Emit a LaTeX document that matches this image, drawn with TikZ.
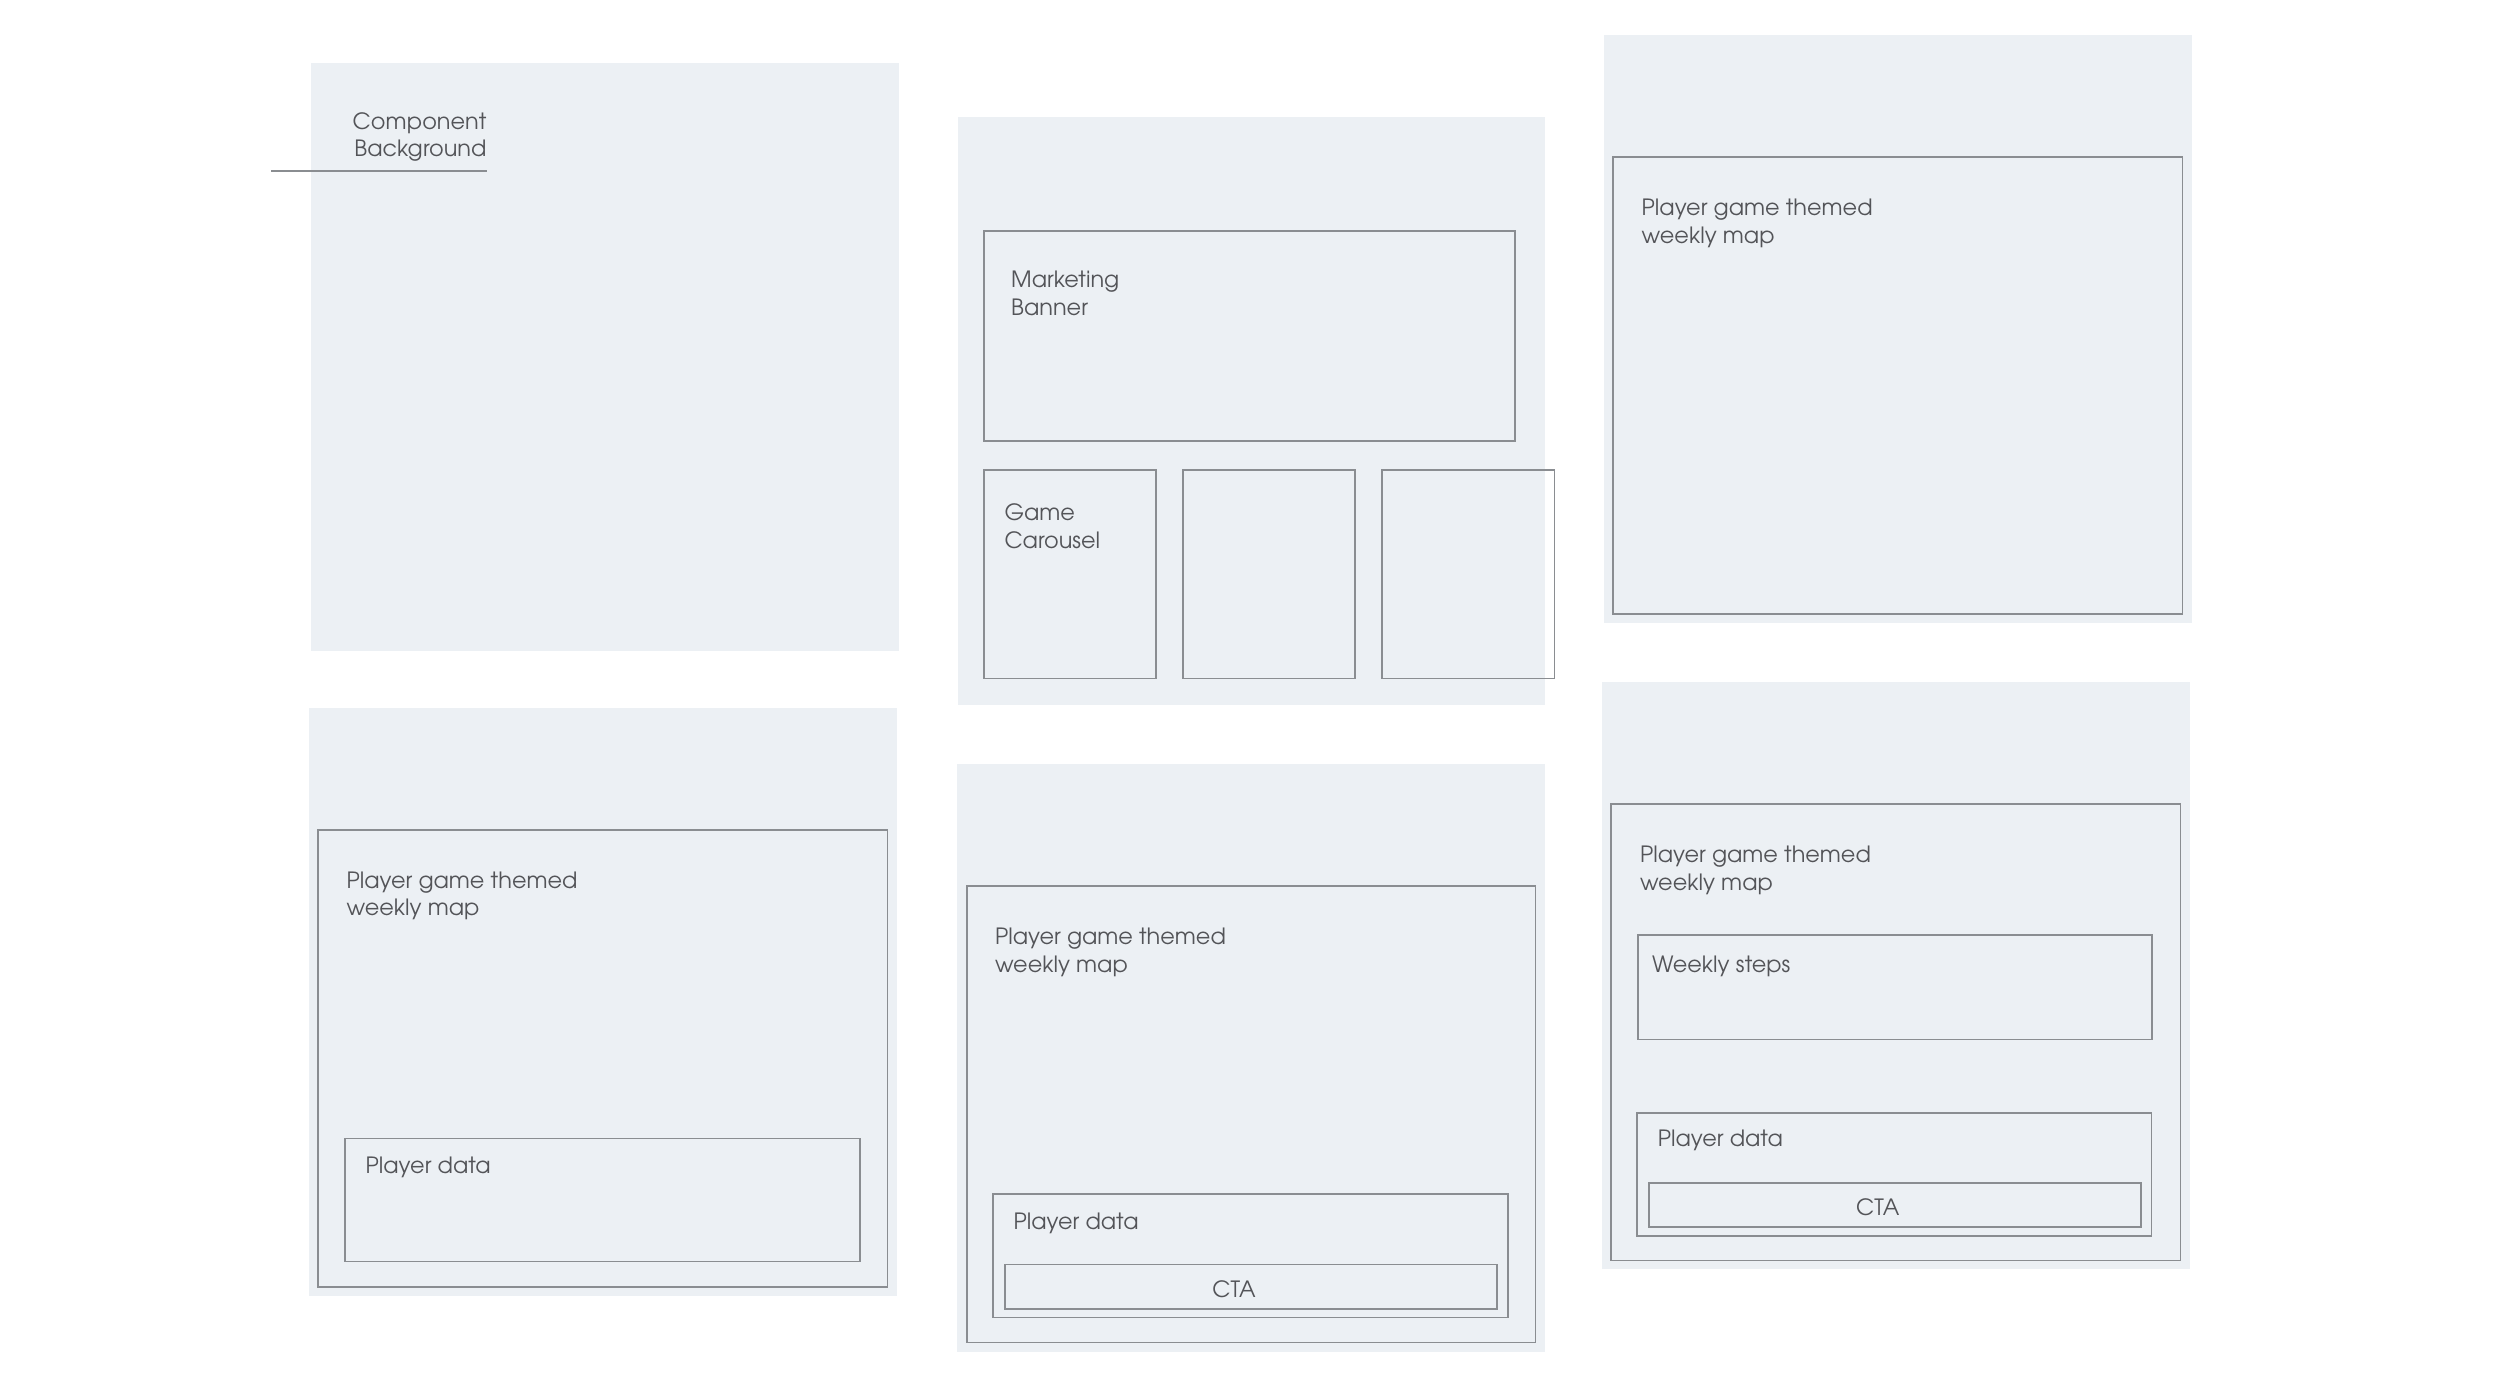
\documentclass[tikz,border=0pt]{standalone}
\usepackage{fontspec}
\setmainfont{TeX Gyre Adventor}
\definecolor{panelfill}{HTML}{ECF0F4}
\definecolor{edge}{HTML}{8A8D91}
\definecolor{txt}{HTML}{535458}
\newcommand\wfbox[6]{\node[#2,anchor=north west,minimum width={#5-#3},minimum height={#6-#4},inner sep=0pt,outer sep=0pt] (#1) at (#3,#4) {};}
\begin{document}
\begin{tikzpicture}[x=1pt,y=-1pt,
  panel/.style={fill=panelfill,draw=none},
  box/.style={draw=edge,line width=1.8pt},
  lbl/.style={text=txt,font=\fontsize{22.4}{27.7}\selectfont,inner sep=0pt,anchor=base west,align=left},
]
\useasboundingbox (0,0) rectangle (2500,1387);
% panels
\wfbox{p1}{panel}{311.2}{62.8}{899.1}{650.7}
\wfbox{p2}{panel}{957.5}{117}{1545}{705}
\wfbox{p3}{panel}{1604.1}{35}{2192}{623}
\wfbox{p4}{panel}{309.1}{707.9}{897}{1295.5}
\wfbox{p5}{panel}{957}{764}{1544.5}{1351.5}
\wfbox{p6}{panel}{1602}{682}{2189.5}{1269.2}
% panel 1 label
\node[lbl,anchor=base east,align=right,font=\fontsize{22.4}{27}\selectfont] (cbl) at (486.6,156.1) {Component\\Background};
\coordinate (cbA) at (271,171);
\coordinate (cbB) at (486.6,171);
\draw[edge,line width=1.5pt] (cbA) -- (cbB);
% panel 2
\wfbox{banner}{box}{983.6}{230.9}{1514.7}{440.9}
\wfbox{car1}{box}{983.6}{469.7}{1156}{678.5}
\wfbox{car2}{box}{1183}{469.7}{1355}{678.5}
\wfbox{car3}{box}{1382}{469.7}{1554.5}{678.5}
\node[lbl] (bannert) at (1011,315.5) {Marketing\\Banner};
\node[lbl] (cart) at (1004.3,548) {Game\\Carousel};
% panel 3
\wfbox{map3}{box}{1613.3}{156.8}{2182.5}{613.9}
\node[lbl] (map3t) at (1641.5,243.4) {Player game themed\\weekly map};
% panel 4
\wfbox{map4}{box}{318.2}{829.7}{887.5}{1286.8}
\node[lbl] (map4t) at (346.4,915.9) {Player game themed\\weekly map};
\wfbox{pd4}{box}{344.8}{1138.5}{859.7}{1261.5}
\node[lbl] (pd4t) at (365.5,1173.7) {Player data};
% panel 5
\wfbox{map5}{box}{966.6}{885.7}{1535.4}{1342.4}
\node[lbl] (map5t) at (994.8,972) {Player game themed\\weekly map};
\wfbox{pd5}{box}{992.7}{1194.2}{1507.6}{1317.5}
\node[lbl] (pd5t) at (1013.4,1229) {Player data};
\wfbox{cta5}{box}{1004.7}{1264.5}{1497.3}{1309.2}
\node[lbl,anchor=base] (cta5t) at (1234,1297.8) {CTA};
% panel 6
\wfbox{map6}{box}{1611.2}{803.8}{2180.4}{1260.5}
\node[lbl] (map6t) at (1639.8,890) {Player game themed\\weekly map};
\wfbox{st6}{box}{1638.1}{935}{2152.2}{1039.4}
\node[lbl] (st6t) at (1651.8,972.6) {Weekly steps};
\wfbox{pd6}{box}{1636.9}{1112.6}{2151.4}{1236}
\node[lbl] (pd6t) at (1657.6,1146.6) {Player data};
\wfbox{cta6}{box}{1648.9}{1183}{2141}{1227.2}
\node[lbl,anchor=base] (cta6t) at (1877.8,1215.8) {CTA};
\end{tikzpicture}
\end{document}
